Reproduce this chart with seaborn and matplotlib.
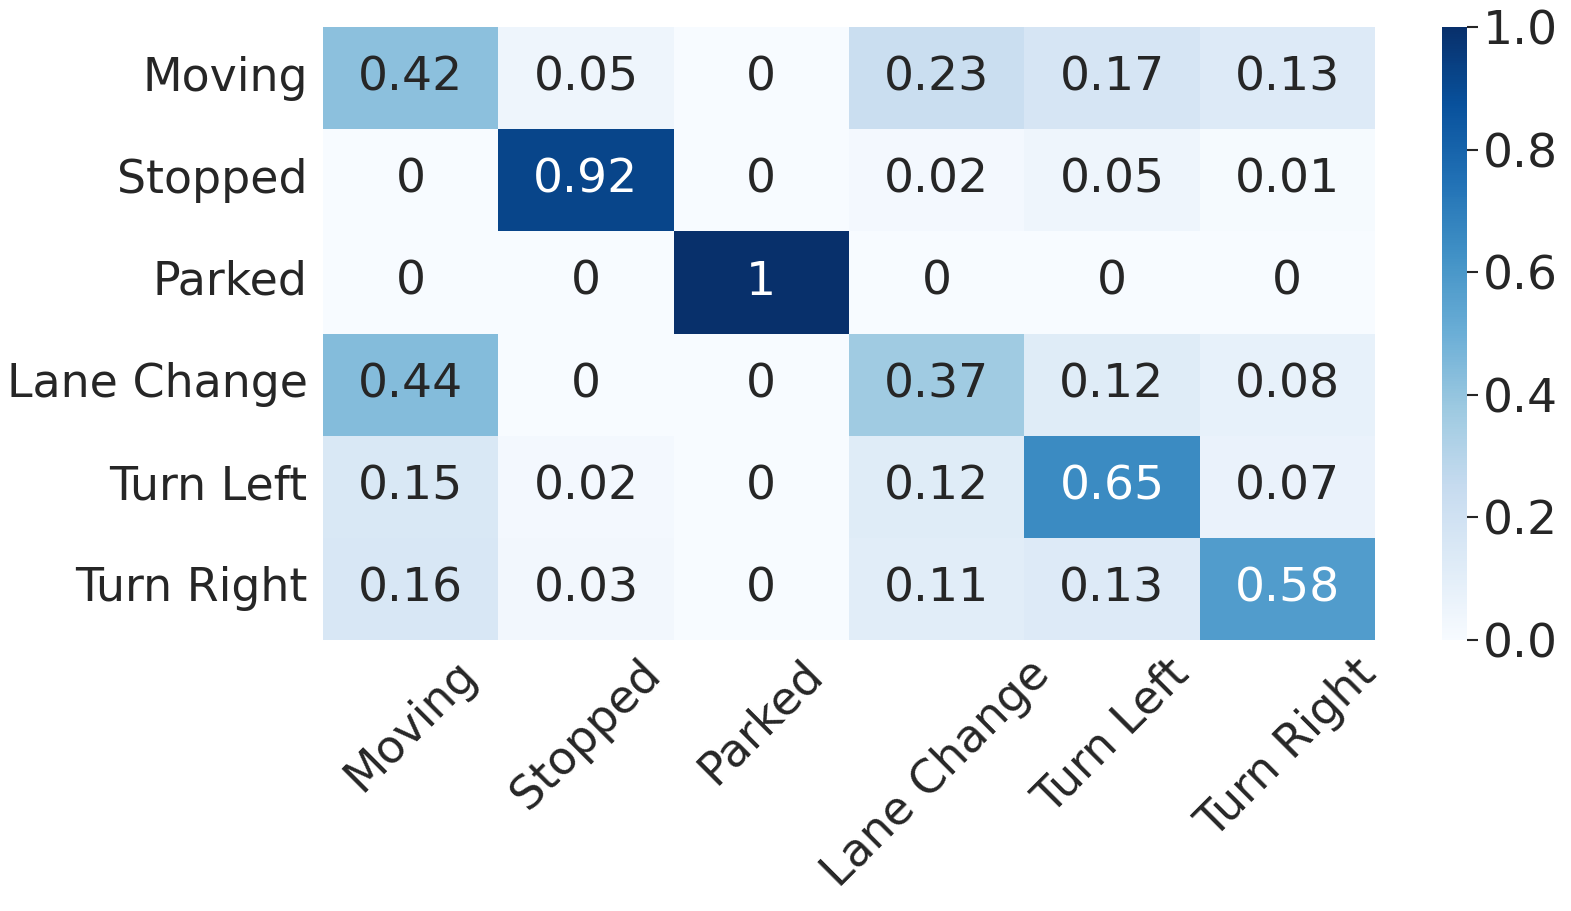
import numpy as np
import pandas as pd
import seaborn as sns
import matplotlib.pyplot as plt

labels = ["Moving", "Stopped", "Parked", "Lane Change", "Turn Left", "Turn Right"]

moving = [0.42, 0.05, 0, 0.23, 0.17, 0.13]
stopped = [0, 0.92, 0, 0.02, 0.05, 0.01]
parked = [0, 0, 1, 0, 0, 0]
lane_change = [0.44, 0, 0, 0.37, 0.12, 0.08]
turn_left = [0.15, 0.02, 0, 0.12, 0.65, 0.07]
turn_right = [0.16, 0.03, 0, 0.11, 0.13, 0.58]

cm = pd.DataFrame([moving, stopped, parked, lane_change, turn_left, turn_right],
                  index=labels, columns=labels)

sns.set(font_scale=3.0)
sns.set_style("white")

W, H = 1571, 911
fig = plt.figure(figsize=(W / 100, H / 100), dpi=100)
ax = fig.add_axes([323 / W, (H - 640) / H, (1375 - 323) / W, (640 - 27) / H])
cax = fig.add_axes([1442 / W, (H - 640) / H, 25 / W, (640 - 27) / H])

sns.heatmap(cm, annot=True, fmt="g", cmap="Blues", vmin=0, vmax=1,
            ax=ax, cbar_ax=cax, annot_kws={"size": 34})

ax.tick_params(axis="y", labelsize=33, length=0, pad=11)
ax.tick_params(axis="x", labelsize=33, length=0, pad=8)
ax.set_xticklabels(labels, rotation=45, ha="center")
ax.set_yticklabels(labels, rotation=0, va="center")
cax.tick_params(labelsize=34, length=8, width=1.5, color="#262626")
cax.set_yticks([0, 0.2, 0.4, 0.6, 0.8, 1.0])
cax.set_yticklabels(["0.0", "0.2", "0.4", "0.6", "0.8", "1.0"])

fig.savefig("out.png", dpi=100)
